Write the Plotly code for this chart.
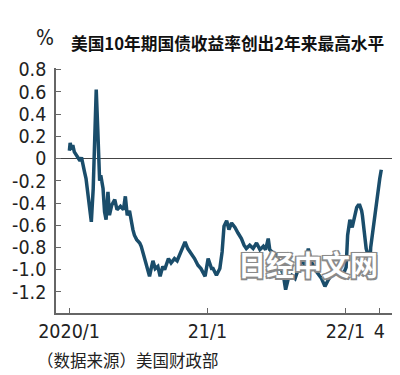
import plotly.graph_objects as go

dates = [
    "2020-01-02", "2020-01-04", "2020-01-08", "2020-01-11", "2020-01-15", "2020-01-20",
    "2020-01-24", "2020-01-30", "2020-02-03", "2020-02-07", "2020-02-11", "2020-02-15",
    "2020-02-20", "2020-02-24", "2020-02-29", "2020-03-05", "2020-03-07", "2020-03-10",
    "2020-03-13", "2020-03-17", "2020-03-19", "2020-03-22", "2020-03-25", "2020-03-31",
    "2020-04-04", "2020-04-08", "2020-04-13", "2020-04-17", "2020-04-23", "2020-05-01",
    "2020-05-07", "2020-05-16", "2020-05-24", "2020-05-29", "2020-06-03", "2020-06-09",
    "2020-06-18", "2020-06-22", "2020-06-28", "2020-07-06", "2020-07-10", "2020-07-17",
    "2020-07-23", "2020-08-01", "2020-08-06", "2020-08-10", "2020-08-16", "2020-08-23",
    "2020-08-29", "2020-09-05", "2020-09-10", "2020-09-14", "2020-09-20", "2020-09-27",
    "2020-10-06", "2020-10-13", "2020-10-19", "2020-10-28", "2020-11-03", "2020-11-10",
    "2020-11-19", "2020-11-28", "2020-12-07", "2020-12-15", "2020-12-26", "2021-01-03",
    "2021-01-12", "2021-01-16", "2021-01-25", "2021-02-03", "2021-02-09", "2021-02-14",
    "2021-02-21", "2021-02-27", "2021-03-06", "2021-03-15", "2021-03-23", "2021-04-01",
    "2021-04-08", "2021-04-14", "2021-04-23", "2021-05-02", "2021-05-11", "2021-05-20",
    "2021-05-29", "2021-06-04", "2021-06-11", "2021-06-15", "2021-06-24", "2021-07-03",
    "2021-07-12", "2021-07-21", "2021-07-27", "2021-08-03", "2021-08-12", "2021-08-21",
    "2021-08-29", "2021-09-07", "2021-09-16", "2021-09-25", "2021-10-03", "2021-10-17",
    "2021-10-30", "2021-11-08", "2021-11-17", "2021-11-25", "2021-12-08", "2021-12-22",
    "2021-12-29", "2022-01-03", "2022-01-07", "2022-01-13", "2022-01-19", "2022-01-22",
    "2022-01-26", "2022-01-31", "2022-02-04", "2022-02-08", "2022-02-13", "2022-02-15",
    "2022-02-20", "2022-02-25", "2022-03-03", "2022-03-07", "2022-03-09", "2022-03-12",
    "2022-03-15", "2022-03-21", "2022-03-27", "2022-04-02", "2022-04-06",
]
yields = [
    0.07, 0.14, 0.08, 0.12, 0.06, 0.03,
    0.02, -0.02, 0.01, -0.08, -0.12, -0.18,
    -0.30, -0.42, -0.57, -0.27, 0.00, 0.43,
    0.62, 0.27, 0.00, -0.20, -0.15, -0.27,
    -0.48, -0.55, -0.30, -0.51, -0.42, -0.37,
    -0.46, -0.43, -0.46, -0.34, -0.51, -0.47,
    -0.64, -0.69, -0.73, -0.76, -0.79, -0.88,
    -0.96, -1.06, -0.98, -0.92, -0.99, -0.97,
    -1.06, -0.97, -1.00, -0.96, -0.90, -0.94,
    -0.90, -0.92, -0.87, -0.81, -0.75, -0.81,
    -0.85, -0.90, -0.96, -0.99, -1.06, -0.90,
    -0.99, -0.99, -1.05, -0.99, -0.84, -0.61,
    -0.56, -0.64, -0.58, -0.62, -0.67, -0.72,
    -0.78, -0.81, -0.78, -0.81, -0.76, -0.82,
    -0.79, -0.82, -0.72, -0.82, -0.85, -0.87,
    -0.96, -1.05, -1.18, -1.08, -1.05, -1.08,
    -1.00, -0.93, -0.95, -0.81, -0.93, -1.02,
    -1.08, -1.15, -1.09, -1.05, -1.03, -1.03,
    -1.02, -0.98, -0.69, -0.55, -0.62, -0.57,
    -0.51, -0.44, -0.42, -0.42, -0.47, -0.51,
    -0.66, -0.81, -0.88, -0.94, -0.80, -0.72,
    -0.60, -0.46, -0.30, -0.18, -0.10,
]

y_tickvals = [0.8, 0.6, 0.4, 0.2, 0, -0.2, -0.4, -0.6, -0.8, -1.0, -1.2]
y_ticktext = ["0.8", "0.6", "0.4", "0.2", "0", "-0.2", "-0.4", "-0.6", "-0.8", "-1.0", "-1.2"]
x_tickvals = ["2020-01-01", "2021-01-01", "2022-01-01", "2022-04-01"]
x_ticktext = ["2020/1", "21/1", "22/1", "4"]

title_text = "美国10年期国债收益率创出2年来最高水平"
unit_text = "%"
source_text = "（数据来源）美国财政部"
watermark_text = "日经中文网"

tick_font = dict(family="Liberation Sans Narrow, DejaVu Sans Condensed, sans-serif", size=19.5, color="#222")
axis_color = "#666666"

fig = go.Figure()
fig.add_trace(go.Scatter(
    x=dates, y=yields, mode="lines",
    line=dict(color="#1a4d6b", width=3.5),
    hoverinfo="skip", showlegend=False,
))

fig.update_layout(
    width=400, height=375,
    margin=dict(l=48, r=13, t=60, b=70, autoexpand=False),
    paper_bgcolor="white", plot_bgcolor="white",
    showlegend=False,
    xaxis=dict(
        type="date",
        range=["2019-11-27 14:00", "2022-05-12 07:00"],
        tickvals=x_tickvals, ticktext=x_ticktext,
        ticks="inside", ticklen=5, tickwidth=1.3, tickcolor=axis_color,
        showline=True, linecolor=axis_color, linewidth=1.5,
        showgrid=False, zeroline=False,
        tickfont=tick_font,
    ),
    yaxis=dict(
        range=[-1.39, 0.815],
        tickvals=y_tickvals, ticktext=y_ticktext,
        ticks="inside", ticklen=5, tickwidth=1.3, tickcolor=axis_color,
        showline=True, linecolor=axis_color, linewidth=1.5,
        showgrid=False,
        zeroline=True, zerolinecolor="#444444", zerolinewidth=1.3,
        tickfont=tick_font,
        ticklabelstandoff=4,
    ),
    annotations=[
        dict(text=title_text, xref="paper", yref="paper", x=0.038, y=1.102,
             xanchor="left", yanchor="middle", showarrow=False,
             font=dict(family="Noto Sans CJK SC", size=16.7, color="#111", weight="bold")),
        dict(text=unit_text, xref="paper", yref="paper", x=-0.032, y=1.122,
             xanchor="center", yanchor="middle", showarrow=False,
             font=dict(family="Liberation Sans Narrow, DejaVu Sans Condensed, sans-serif", size=21, color="#222")),
        dict(text=source_text, xref="paper", yref="paper", x=-0.062, y=-0.192,
             xanchor="left", yanchor="middle", showarrow=False,
             font=dict(family="Noto Sans CJK SC", size=16.5, color="#222")),
        dict(text=watermark_text, xref="paper", yref="paper", x=0.743, y=0.20,
             xanchor="center", yanchor="middle", showarrow=False,
             font=dict(family="Noto Sans CJK SC", size=28, color="white", weight="bold",
                       shadow="-1.5px -1.5px 0 #8a8a8a, 1.5px -1.5px 0 #8a8a8a, -1.5px 1.5px 0 #8a8a8a, 1.5px 1.5px 0 #8a8a8a, 0 0 2px #8a8a8a")),
    ],
)

fig.write_html("out.html")
